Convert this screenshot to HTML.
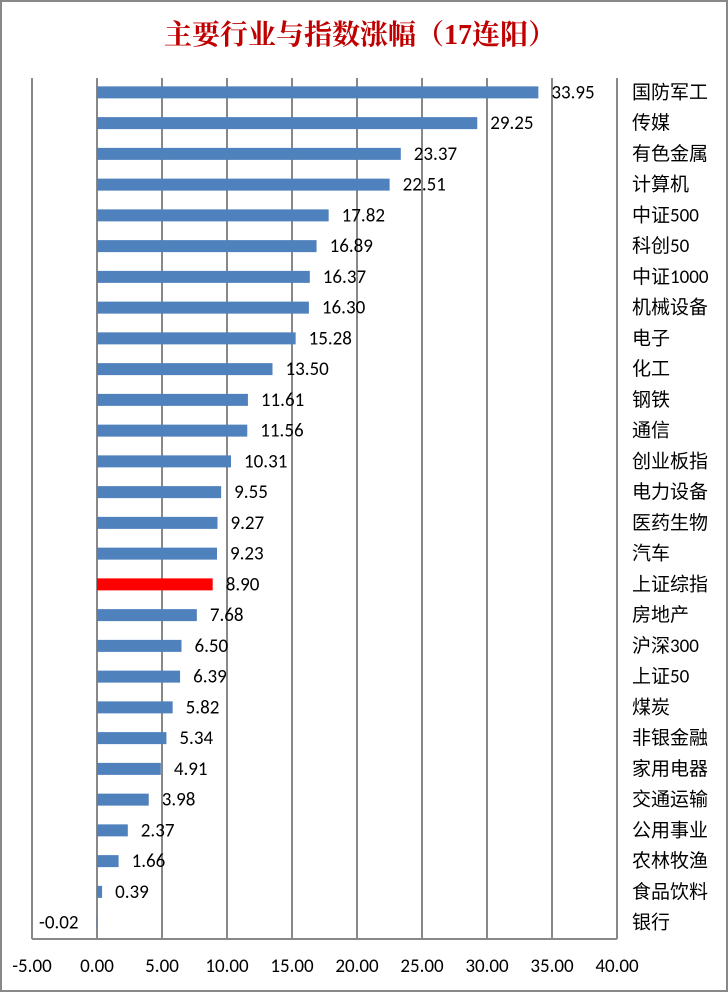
<!DOCTYPE html>
<html><head><meta charset="utf-8"><style>
html,body{margin:0;padding:0;background:#fff}
</style></head><body>
<svg width="728" height="992" xmlns="http://www.w3.org/2000/svg" font-family="Calibri, 'Liberation Sans', 'Noto Sans CJK SC', sans-serif">
<rect x="1" y="1" width="726" height="990" fill="#fff" stroke="#888" stroke-width="2"/>
<text x="360" y="44" text-anchor="middle" font-family="'Liberation Serif','Noto Serif CJK SC',serif" font-size="28" font-weight="bold" fill="#c00000">主要行业与指数涨幅（17连阳）</text>
<g id="grid" stroke="#888" stroke-width="2"></g>
<g id="bars"></g>
</svg>
<script>
var data=[["国防军工",33.95],["传媒",29.25],["有色金属",23.37],["计算机",22.51],["中证500",17.82],["科创50",16.89],["中证1000",16.37],["机械设备",16.30],["电子",15.28],["化工",13.50],["钢铁",11.61],["通信",11.56],["创业板指",10.31],["电力设备",9.55],["医药生物",9.27],["汽车",9.23],["上证综指",8.90],["房地产",7.68],["沪深300",6.50],["上证50",6.39],["煤炭",5.82],["非银金融",5.34],["家用电器",4.91],["交通运输",3.98],["公用事业",2.37],["农林牧渔",1.66],["食品饮料",0.39],["银行",-0.02]];
var NS="http://www.w3.org/2000/svg";
function el(t,a,p,txt){var e=document.createElementNS(NS,t);for(var k in a)e.setAttribute(k,a[k]);if(txt!=null)e.textContent=txt;p.appendChild(e);return e;}
var g=document.getElementById("grid"),b=document.getElementById("bars");
function X(v){return 97+v*13;}
for(var v=-5;v<=40;v+=5){el("line",{x1:X(v),x2:X(v),y1:78,y2:939},g);
el("text",{x:X(v),y:972,"text-anchor":"middle","font-size":"19",fill:"#000"},b,v.toFixed(2));}
el("line",{x1:32,x2:617,y1:939,y2:939},g);
var plotTop=78,band=861/28;
data.forEach(function(d,i){var cy=plotTop+band*(i+0.5)-1;
var x0=X(Math.min(0,d[1])),w=Math.abs(d[1])*13;
el("rect",{x:x0,y:cy-6,width:Math.max(w,0.5),height:12,fill:d[0]=="上证综指"?"#ff0000":"#4f81bd"},b);
var tx=d[1]<0?39:X(d[1])+13;
el("text",{x:tx,y:cy+6,"font-size":"19",fill:"#000"},b,d[1].toFixed(2));
el("text",{x:632,y:cy+6,"font-size":"19",fill:"#000"},b,d[0]);
});
</script>
</body></html>
